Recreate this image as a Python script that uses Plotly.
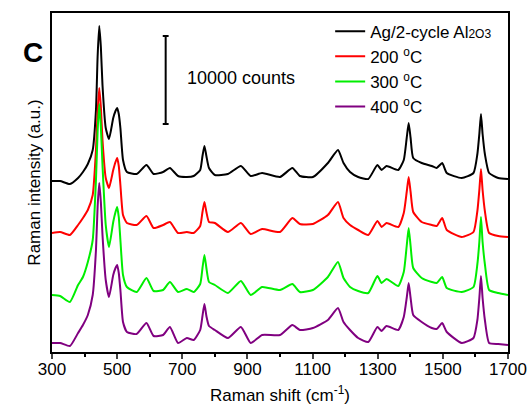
import plotly.graph_objects as go

# Raman shift grid (cm^-1)
shift = [300, 325, 355, 380, 395, 410, 425, 435, 440, 445, 450, 455, 465, 475, 488, 495, 500, 505,
         510, 518, 530, 560, 590, 612, 641, 662, 687, 714, 735, 755, 762, 768, 774, 782, 800,
         840, 880, 910, 945, 1000, 1038, 1061, 1101, 1147, 1178, 1195, 1215, 1240, 1271, 1299,
         1312, 1327, 1363, 1380, 1389, 1395, 1401, 1409, 1435, 1466, 1481, 1498, 1512, 1558,
         1594, 1606, 1612, 1617, 1622, 1629, 1642, 1670, 1700]

# Stacked intensities (a.u.)
ag_al2o3 = [171, 171, 168, 174, 180, 188, 202, 242, 295, 326, 305, 267, 224, 213, 234, 241, 244, 238,
            224, 192, 180, 178, 187, 178, 180, 184, 176, 175, 176, 182, 196, 206, 196, 184, 177,
            178, 186, 176, 179, 175, 184, 176, 175, 189, 202, 189, 180, 175, 173, 187,
            182, 186, 182, 192, 214, 229, 214, 194, 189, 186, 184, 189, 179, 174,
            179, 198, 218, 238, 218, 198, 179, 174, 173]
t200 = [119, 120, 117, 127, 134, 142, 157, 202, 240, 264, 245, 212, 174, 164, 182, 190, 194, 186,
        167, 137, 129, 127, 136, 124, 127, 130, 119, 120, 119, 126, 140, 150, 140, 130, 129,
        120, 129, 118, 123, 120, 134, 128, 128, 137, 150, 134, 127, 122, 117, 131,
        125, 129, 125, 139, 160, 175, 160, 140, 130, 127, 126, 134, 122, 115,
        120, 141, 162, 183, 162, 141, 119, 116, 115]
t300 = [57, 56, 50, 67, 75, 90, 112, 172, 220, 248, 225, 187, 127, 105, 130, 140, 145, 135,
        112, 77, 65, 60, 74, 61, 62, 70, 60, 63, 60, 68, 84, 97, 84, 70, 67,
        59, 71, 57, 65, 62, 68, 60, 62, 75, 90, 74, 65, 61, 59, 76,
        69, 73, 66, 80, 106, 124, 106, 84, 74, 70, 69, 75, 64, 60,
        65, 88, 110, 135, 110, 88, 62, 59, 57]
t400 = [9, 9, 6, 19, 27, 37, 57, 102, 145, 169, 150, 117, 72, 55, 77, 84, 87, 79,
        62, 30, 20, 18, 29, 16, 17, 25, 9, 14, 12, 22, 36, 48, 36, 26, 22,
        14, 25, 9, 17, 17, 27, 22, 24, 32, 44, 30, 22, 14, 10, 25,
        21, 26, 22, 35, 54, 69, 54, 37, 30, 24, 23, 29, 20, 9,
        14, 32, 54, 76, 54, 32, 9, 8, 7]

series_names = ["Ag/2-cycle Al<span style='font-size:12px'>2O3</span>",
                "200 <sup>o</sup>C", "300 <sup>o</sup>C", "400 <sup>o</sup>C"]
series_values = [ag_al2o3, t200, t300, t400]
colors = ["#000000", "#ff0000", "#00ee00", "#800080"]

x_ticks = [300, 500, 700, 900, 1100, 1300, 1500, 1700]

# scale bar (10000 counts)
bar_x = 649
bar_y0 = 228
bar_y1 = 316
bar_cap = 9
bar_label = "10000 counts"

FONT = "Liberation Sans, Arial, sans-serif"

fig = go.Figure()
for i, (name, vals, col) in enumerate(zip(series_names, series_values, colors)):
    fig.add_trace(go.Scatter(x=shift, y=vals, mode="lines", name=name,
                             line=dict(color=col, width=2, shape="spline", smoothing=0.5),
                             legendgroup=f"g{i}"))

# scale bar
fig.add_shape(type="line", x0=bar_x, x1=bar_x, y0=bar_y0, y1=bar_y1,
              line=dict(color="black", width=2))
fig.add_shape(type="line", x0=bar_x - bar_cap, x1=bar_x + bar_cap, y0=bar_y0, y1=bar_y0,
              line=dict(color="black", width=2))
fig.add_shape(type="line", x0=bar_x - bar_cap, x1=bar_x + bar_cap, y0=bar_y1, y1=bar_y1,
              line=dict(color="black", width=2))
fig.add_annotation(x=880, y=274, text=bar_label, showarrow=False,
                   font=dict(size=18, color="black", family=FONT))

fig.add_annotation(x=-0.068, y=0.935, xref="paper", yref="paper", text="<b>C</b>",
                   showarrow=False, font=dict(size=28, color="black", family=FONT))

fig.update_layout(
    width=527, height=405,
    margin=dict(l=52, r=19, t=13, b=53, autoexpand=False),
    paper_bgcolor="white", plot_bgcolor="white",
    font=dict(family=FONT, size=17, color="black"),
    showlegend=True,
    legend=dict(x=0.61, y=0.998, xanchor="left", yanchor="top",
                bgcolor="rgba(0,0,0,0)", font=dict(size=17, family=FONT),
                tracegroupgap=0, itemwidth=30),
    xaxis=dict(range=[300, 1700], tickvals=x_ticks, ticks="outside", ticklen=5,
               tickwidth=1.5, showline=True, linecolor="black", linewidth=1.5,
               mirror=True, showgrid=False, zeroline=False, automargin=False,
               ticklabeloverflow="allow", ticklabelstandoff=-4,
               minor=dict(dtick=100, tick0=300, ticks="outside", ticklen=3,
                          tickwidth=1.5, tickcolor="black"),
               tickfont=dict(size=17), title=dict(text="Raman shift (cm<sup>-1</sup>)",
                                                  font=dict(size=17), standoff=14)),
    yaxis=dict(range=[0, 339], showticklabels=False, ticks="", showline=True,
               linecolor="black", linewidth=1.5, mirror=True, showgrid=False,
               zeroline=False, automargin=False,
               title=dict(text="Raman intensity (a.u.)", font=dict(size=17), standoff=5)),
)

fig.write_html("out.html")
